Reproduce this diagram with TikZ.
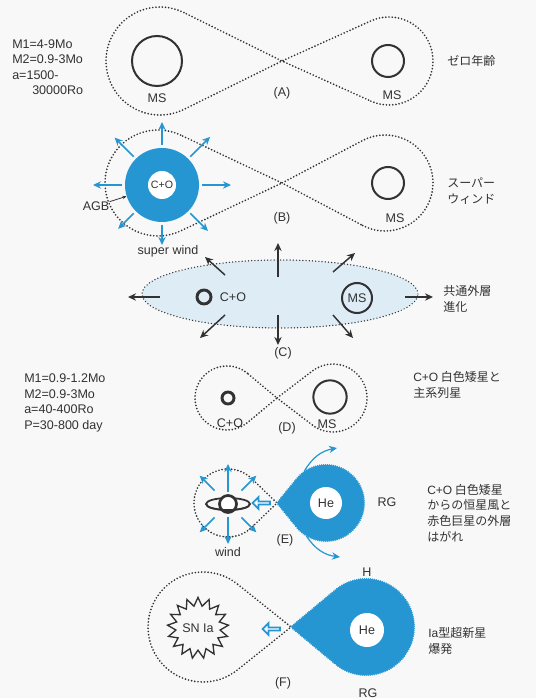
\documentclass[tikz,border=0pt]{standalone}
\usepackage{fontspec}
\setmainfont{Liberation Sans}
\newfontfamily\jp{Noto Sans CJK JP}
\usetikzlibrary{arrows.meta, shapes.geometric, shapes.arrows, decorations.pathmorphing}

\definecolor{sky}{RGB}{38,150,210}
\definecolor{haze}{RGB}{222,236,246}
\definecolor{ink}{RGB}{50,50,50}
\definecolor{paper}{RGB}{248,248,248}

\tikzset{
    >={Stealth[length=6pt,width=5.5pt]},
    lbl/.style={text=ink, inner sep=0pt, font=\fontsize{9.4}{11.6}\selectfont},
    small/.style={font=\fontsize{8}{9}\selectfont},
    jlbl/.style={text=ink, inner sep=0pt, anchor=west, align=left, font=\jp\fontsize{9}{11.8}\selectfont},
    roche/.style={draw=ink, line width=1.4pt, dash pattern=on 0pt off 2.4pt, line cap=round},
    giant/.style={fill=sky, draw=sky, line width=0.4pt, decorate,
        decoration={zigzag, segment length=1.5pt, amplitude=0.5pt}},
    envelope/.style={ellipse, fill=haze, roche, line width=1.1pt, inner sep=0pt},
    ms/.style={circle, draw=ink, line width=1.5pt, inner sep=0pt, lbl},
    wd/.style={circle, draw=ink, line width=2.2pt, inner sep=0pt},
    core/.style={circle, fill=white, inner sep=0pt, lbl},
    wind/.style={->, draw=sky, line width=1.3pt},
    flow/.style={->, draw=ink, line width=1.1pt},
    tagarrow/.style={-{Stealth[length=3pt,width=2.5pt]}, draw=ink, line width=0.6pt},
    push/.style={single arrow, draw=sky, fill=white, line width=1.3pt, shape border rotate=180,
        minimum height=13pt, minimum width=9pt, single arrow head extend=2pt,
        single arrow head indent=0pt, inner sep=0pt},
    burst/.style={star, star points=17, star point ratio=1.38, draw=ink, line width=1pt,
        inner sep=0pt, minimum size=43pt, lbl}
}

% Roche lobe: [style]{centre x}{centre y}{radius}{x of the inner Lagrange point}
\newcommand{\lobe}[5][roche]{%
    \pgfmathsetmacro\lobed{abs(#5-#2)}%
    \pgfmathsetmacro\lobet{acos(#4/\lobed)}%
    \pgfmathsetmacro\lobeo{(#5>#2) ? 0 : 180}%
    \pgfmathsetmacro\lobea{\lobeo+\lobet}%
    \pgfmathsetmacro\lobeb{\lobeo+360-\lobet}%
    \path[#1] (#2,#3) ++(\lobea:#4) arc[start angle=\lobea, end angle=\lobeb, radius=#4]
        -- (#5,#3) -- cycle;}

\begin{document}
\begin{tikzpicture}[x=0.75pt, y=0.75pt]
    \fill[paper] (0,0) rectangle (536,-698);
    \useasboundingbox (0,0) rectangle (536,-698);

    % (A) zero age pair
    \lobe{160}{-61}{54}{282}
    \lobe{389}{-61}{44}{282}
    \node[ms, minimum size=37.5pt] (msA1) at (157,-61) {};
    \node[ms, minimum size=24pt] (msA2) at (388,-61) {};
    \node[lbl] (msA1l) at (157,-98) {MS};
    \node[lbl] (msA2l) at (392,-95) {MS};
    \node[lbl] (tagA) at (282,-93) {(A)};
    \node[jlbl] (noteA) at (447,-61) {ゼロ年齢};
    \node[lbl, anchor=west, align=left] (parA) at (12,-67)
        {M1=4-9Mo\\M2=0.9-3Mo\\a=1500-\\\hspace*{15pt}30000Ro};

    % (B) AGB super wind
    \lobe{158}{-183}{53}{282}
    \lobe{385}{-183}{48}{282}
    \node[circle, fill=sky, minimum size=55.5pt, inner sep=0pt] (agb) at (162,-185) {};
    \node[core, small, minimum size=21pt] (coB) at (agb) {C+O};
    \foreach \a/\r in {0/69, 45/68, 90/63, 135/67, 180/69, 225/62, 270/60, 315/65}
        \draw[wind] ([shift={(\a:40)}]agb.center) -- ([shift={(\a:\r)}]agb.center);
    \node[lbl] (agbl) at (96,-206) {AGB};
    \draw[tagarrow] (agbl) -- (agb);
    \node[lbl] (swl) at (168,-251) {super wind};
    \node[ms, minimum size=24pt] (msB) at (388,-183) {};
    \node[lbl] (msBl) at (395,-218) {MS};
    \node[lbl] (tagB) at (282,-218) {(B)};
    \node[jlbl] (noteB) at (447,-191) {スーパー\\ウィンド};

    % (C) common envelope
    \node[envelope, minimum width=207pt, minimum height=51pt] (envC) at (280,-294) {};
    \node[wd, minimum size=10.5pt] (wdC) at (204,-297) {};
    \node[lbl] (wdCl) at (233,-297) {C+O};
    \node[ms, minimum size=22.5pt] (msC) at (357,-298) {MS};
    \draw[flow] ([shift={(-120,-3)}]envC.center) -- ([shift={(-152,-3)}]envC.center);
    \draw[flow] ([shift={(125,-3)}]envC.center) -- ([shift={(153,-3)}]envC.center);
    \draw[flow] ([shift={(-2,17)}]envC.center) -- ([shift={(-2,51)}]envC.center);
    \draw[flow] ([shift={(-2,-21)}]envC.center) -- ([shift={(-2,-51)}]envC.center);
    \draw[flow] ([shift={(-55,19)}]envC.center) -- ([shift={(-75,37)}]envC.center);
    \draw[flow] ([shift={(53,22)}]envC.center) -- ([shift={(75,41)}]envC.center);
    \draw[flow] ([shift={(-55,-21)}]envC.center) -- ([shift={(-80,-44)}]envC.center);
    \draw[flow] ([shift={(53,-21)}]envC.center) -- ([shift={(73,-44)}]envC.center);
    \node[lbl] (tagC) at (283,-353) {(C)};
    \node[jlbl] (noteC) at (443,-299) {共通外層\\進化};

    % (D) white dwarf + main sequence
    \lobe{227}{-398}{32}{277}
    \lobe{333}{-398}{34}{277}
    \node[wd, minimum size=9pt] (wdD) at (228,-398) {};
    \node[ms, minimum size=25pt] (msD) at (330,-397) {};
    \node[lbl] (wdDl) at (230,-423) {C+O};
    \node[lbl] (msDl) at (327,-424) {MS};
    \node[lbl] (tagD) at (287,-428) {(D)};
    \node[lbl, anchor=west, align=left] (parD) at (24,-403)
        {M1=0.9-1.2Mo\\M2=0.9-3Mo\\a=40-400Ro\\P=30-800 day};
    \node[jlbl] (noteD) at (413,-385) {{\rmfamily C+O} 白色矮星と\\主系列星};

    % (E) wind stripping the giant
    \lobe{228}{-503}{34}{277}
    \lobe[giant]{326}{-503}{38}{277}
    \node[circle, minimum size=57pt, inner sep=0pt] (rgE) at (326,-503) {};
    \node[core, minimum size=24pt] (heE) at (326,-503) {He};
    \draw[ink, line width=1.3pt] (228,-504) ellipse[x radius=22, y radius=6];
    \node[wd, fill=white, line width=2pt, minimum size=12.75pt] (wdE) at (228,-504) {};
    \draw[ink, line width=1.3pt] (wdE.center) ++(-22,0)
        arc[start angle=180, end angle=360, x radius=22, y radius=6];
    \foreach \a/\s in {45/19, 90/12, 135/19, 225/19, 270/13, 315/19}
        \draw[wind] ([shift={(\a:\s)}]wdE.center) -- ([shift={(\a:40)}]wdE.center);
    \node[push] (pushE) at (262,-503) {};
    \coordinate (peelE1) at (337,-448);
    \coordinate (peelE2) at (340,-557);
    \draw[wind, line width=0.9pt] (rgE.125) to[bend left=25] (peelE1);
    \draw[wind, line width=0.9pt] (rgE.239) to[bend right=25] (peelE2);
    \node[lbl] (rgEl) at (387,-502) {RG};
    \node[lbl] (tagE) at (285,-540) {(E)};
    \node[lbl] (windE) at (228,-552) {wind};
    \node[jlbl] (noteE) at (427,-513) {{\rmfamily C+O} 白色矮星\\からの恒星風と\\赤色巨星の外層\\はがれ};

    % (F) type Ia supernova
    \lobe{203}{-627}{55}{291}
    \lobe[giant]{366}{-627}{48}{291}
    \node[core, minimum size=25.5pt] (heF) at (367,-630) {He};
    \node[burst] (snF) at (198,-628) {SN Ia};
    \node[push] (pushF) at (272,-629) {};
    \node[lbl] (hF) at (367,-572) {H};
    \node[lbl] (rgF) at (368,-693) {RG};
    \node[lbl] (tagF) at (283,-683) {(F)};
    \node[jlbl] (noteF) at (428,-641) {{\rmfamily Ia}型超新星\\爆発};
\end{tikzpicture}
\end{document}
